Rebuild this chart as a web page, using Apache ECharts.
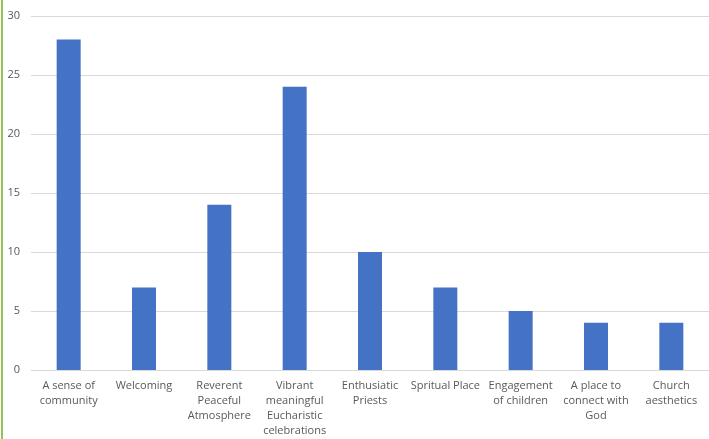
<!DOCTYPE html>
<html><head><meta charset="utf-8">
<script src="https://cdn.jsdelivr.net/npm/echarts@6/dist/echarts.min.js"></script>
<style>html,body{margin:0;padding:0;background:#fff}#c{width:709px;height:439px}</style>
</head><body><div id="c"></div>
<script>
const categories = ["A sense of\ncommunity", "Welcoming", "Reverent\nPeaceful\nAtmosphere", "Vibrant\nmeaningful\nEucharistic\ncelebrations", "Enthusiatic\nPriests", "Spritual Place", "Engagement\nof children", "A place to\nconnect with\nGod", "Church\naesthetics"];
const values = [28, 7, 14, 24, 10, 7, 5, 4, 4];
const chart = echarts.init(document.getElementById('c'), null, {renderer:'canvas'});
chart.setOption({
  animation:false,
  grid:{left:31,right:0,top:16,bottom:69,containLabel:false},
  graphic:[{type:'rect',shape:{x:1,y:0,width:2,height:439},style:{fill:'#92C353'},z:10}],
  xAxis:{type:'category',data:categories,
    axisLine:{show:false},axisTick:{show:false},
    axisLabel:{interval:0,color:'#595959',fontFamily:'Open Sans',fontSize:11,lineHeight:15,margin:8}},
  yAxis:{type:'value',min:0,max:30,interval:5,
    axisLine:{show:false},axisTick:{show:false},
    splitLine:{lineStyle:{color:'#d9d9d9',width:1}},
    axisLabel:{color:'#595959',fontFamily:'Open Sans',fontSize:11,margin:11}},
  series:[{type:'bar',data:values,barWidth:24,itemStyle:{color:'#4472C4'}}]
});
</script></body></html>
